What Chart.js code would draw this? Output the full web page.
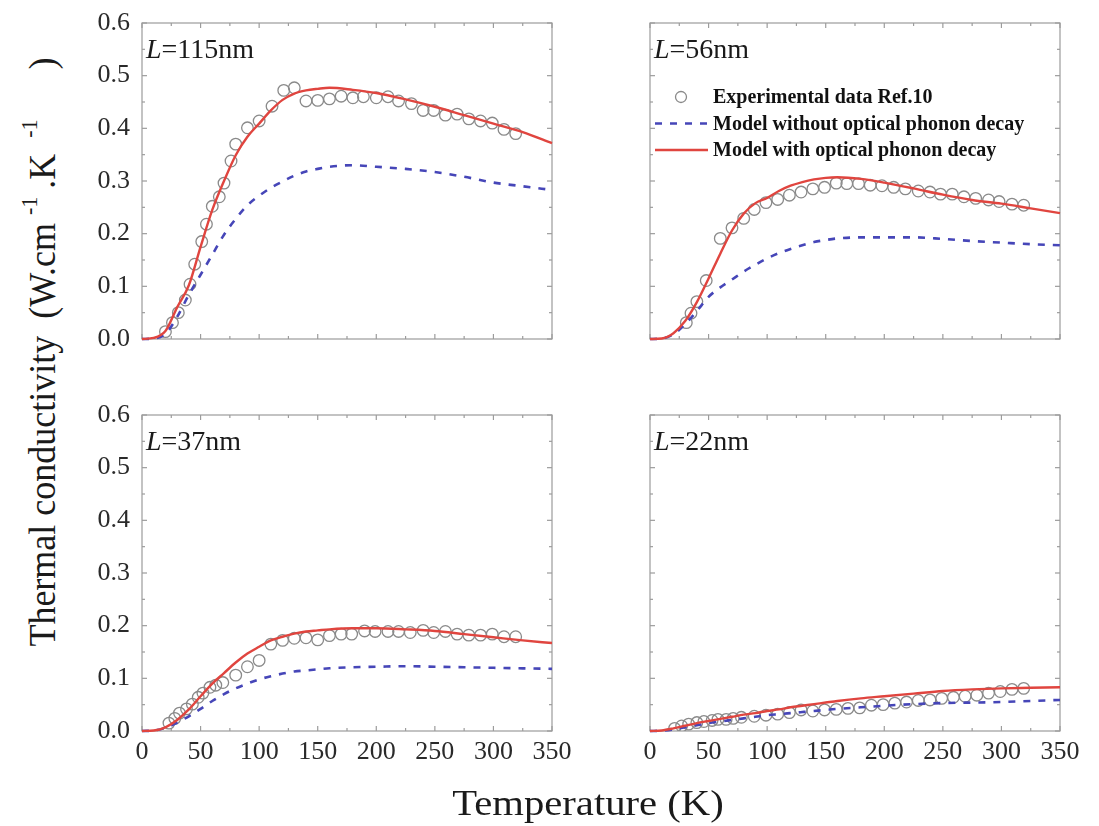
<!DOCTYPE html>
<html>
<head>
<meta charset="utf-8">
<script src="https://cdn.jsdelivr.net/npm/chart.js@4.4.1/dist/chart.umd.min.js"></script>
<style>
  html, body { margin: 0; padding: 0; background: #fff; }
  #wrap { position: relative; width: 1099px; height: 826px; overflow: hidden; }
  canvas { position: absolute; }
  .axis-title {
    position: absolute; font-family: 'Liberation Serif', 'Times New Roman', serif;
    color: #1a1a1a; white-space: nowrap; font-size: 36px; line-height: 1;
  }
  #ytitle { left: 42px; top: 352px; transform: translate(-50%, -50%) rotate(-90deg) scaleY(1.05); }
  #ytitle .open { margin-left: 8px; }
  #ytitle sup { font-size: 22px; position: relative; top: -4px; }
  #ytitle .s1 { margin: 0 8px; }
  #ytitle .s2 { margin: 0 50px 0 16px; }
  #xtitle { left: 588px; top: 803px; transform: translate(-50%, -50%) scaleX(1.13); }
</style>
</head>
<body>
<div id="wrap">
  <canvas id="pA" width="500" height="400" style="left:80px;top:0px;"></canvas>
  <canvas id="pB" width="500" height="400" style="left:590px;top:0px;"></canvas>
  <canvas id="pC" width="500" height="410" style="left:80px;top:392px;"></canvas>
  <canvas id="pD" width="500" height="410" style="left:590px;top:392px;"></canvas>
  <div class="axis-title" id="ytitle">Thermal conductivity <span class="open">(W.cm</span><sup class="s1">-1</sup>.K<sup class="s2">-1</sup>)</div>
  <div class="axis-title" id="xtitle">Temperature (K)</div>
</div>
<script>
// Temperature grid (K) on which both model curves are tabulated
const modelTemps = [0, 10, 20, 30, 40, 50, 60, 70, 80, 90, 100, 110, 120, 130, 140, 150, 160, 180, 200, 225, 250, 275, 300, 325, 350];

// L = 115 nm
const expTemps115 = [20, 26, 31, 37, 41, 45, 51, 55, 60, 66, 70, 76, 80, 90, 100, 111, 121, 130, 140, 150, 160, 170, 180, 189, 200, 210, 219, 230, 240, 249, 259, 269, 279, 289, 299, 309, 319];
const expK115 = [0.014, 0.031, 0.050, 0.074, 0.104, 0.142, 0.185, 0.218, 0.252, 0.270, 0.296, 0.338, 0.370, 0.401, 0.414, 0.442, 0.472, 0.477, 0.452, 0.453, 0.456, 0.461, 0.458, 0.460, 0.458, 0.460, 0.452, 0.447, 0.434, 0.434, 0.425, 0.427, 0.418, 0.414, 0.410, 0.398, 0.390];
const withDecay115 = [0, 0.002, 0.015, 0.060, 0.102, 0.175, 0.245, 0.300, 0.349, 0.384, 0.409, 0.434, 0.454, 0.466, 0.472, 0.475, 0.477, 0.473, 0.467, 0.455, 0.441, 0.425, 0.409, 0.393, 0.372];
const withoutDecay115 = [0, 0.001, 0.010, 0.042, 0.084, 0.122, 0.160, 0.198, 0.228, 0.254, 0.272, 0.287, 0.299, 0.310, 0.318, 0.323, 0.327, 0.330, 0.327, 0.323, 0.317, 0.308, 0.297, 0.290, 0.283];

// L = 56 nm
const expTemps56 = [31, 35, 40, 48, 60, 70, 80, 89, 99, 109, 119, 129, 139, 149, 159, 168, 178, 188, 198, 208, 218, 229, 239, 248, 258, 268, 278, 289, 298, 309, 319];
const expK56 = [0.031, 0.049, 0.071, 0.111, 0.191, 0.211, 0.229, 0.246, 0.259, 0.265, 0.273, 0.279, 0.285, 0.288, 0.296, 0.295, 0.295, 0.292, 0.291, 0.288, 0.285, 0.281, 0.279, 0.275, 0.275, 0.270, 0.267, 0.264, 0.261, 0.256, 0.254];
const withDecay56 = [0, 0.001, 0.011, 0.034, 0.070, 0.115, 0.162, 0.206, 0.238, 0.258, 0.268, 0.281, 0.291, 0.298, 0.303, 0.306, 0.307, 0.304, 0.297, 0.286, 0.274, 0.264, 0.257, 0.248, 0.239];
const withoutDecay56 = [0, 0.001, 0.009, 0.028, 0.053, 0.080, 0.098, 0.113, 0.128, 0.141, 0.153, 0.163, 0.171, 0.178, 0.184, 0.188, 0.191, 0.193, 0.193, 0.193, 0.190, 0.186, 0.183, 0.180, 0.178];

// L = 37 nm
const expTemps37 = [23, 28, 32, 38, 43, 48, 52, 58, 63, 69, 80, 90, 100, 110, 120, 130, 140, 150, 160, 170, 179, 190, 199, 210, 219, 229, 240, 249, 259, 269, 279, 289, 299, 309, 319];
const expK37 = [0.015, 0.024, 0.034, 0.042, 0.051, 0.064, 0.072, 0.083, 0.087, 0.092, 0.106, 0.122, 0.134, 0.165, 0.172, 0.176, 0.177, 0.173, 0.181, 0.184, 0.184, 0.190, 0.189, 0.189, 0.189, 0.187, 0.191, 0.187, 0.189, 0.184, 0.182, 0.182, 0.184, 0.179, 0.179];
const withDecay37 = [0, 0.001, 0.007, 0.021, 0.041, 0.066, 0.090, 0.110, 0.130, 0.147, 0.160, 0.172, 0.179, 0.185, 0.189, 0.191, 0.193, 0.195, 0.195, 0.193, 0.190, 0.184, 0.178, 0.172, 0.167];
const withoutDecay37 = [0, 0.001, 0.006, 0.016, 0.028, 0.042, 0.057, 0.070, 0.081, 0.090, 0.098, 0.104, 0.109, 0.113, 0.115, 0.117, 0.119, 0.121, 0.122, 0.123, 0.122, 0.121, 0.120, 0.119, 0.118];

// L = 22 nm
const expTemps22 = [21, 27, 33, 40, 46, 53, 58, 65, 71, 78, 89, 99, 109, 119, 129, 139, 149, 159, 169, 179, 189, 199, 209, 219, 229, 239, 249, 259, 269, 279, 289, 299, 309, 319];
const expK22 = [0.005, 0.0095, 0.013, 0.016, 0.018, 0.020, 0.022, 0.022, 0.024, 0.026, 0.028, 0.030, 0.032, 0.035, 0.040, 0.038, 0.040, 0.041, 0.043, 0.044, 0.049, 0.050, 0.053, 0.055, 0.058, 0.059, 0.062, 0.064, 0.066, 0.068, 0.072, 0.075, 0.079, 0.081];
const withDecay22 = [0, 0.001, 0.005, 0.010, 0.015, 0.019, 0.023, 0.027, 0.031, 0.034, 0.038, 0.041, 0.045, 0.048, 0.051, 0.054, 0.057, 0.062, 0.066, 0.071, 0.076, 0.079, 0.081, 0.082, 0.083];
const withoutDecay22 = [0, 0.0005, 0.003, 0.007, 0.011, 0.015, 0.018, 0.021, 0.024, 0.027, 0.030, 0.032, 0.034, 0.036, 0.038, 0.040, 0.042, 0.045, 0.048, 0.051, 0.053, 0.054, 0.055, 0.057, 0.059];

// Axis ranges and tick steps
const tempRange = [0, 350];
const tempStep = 50;
const kRange = [0, 0.6];
const kStep = 0.1;

const legendLabels = ['Experimental data Ref.10', 'Model without optical phonon decay', 'Model with optical phonon decay'];

const SERIF = "'Liberation Serif', 'Times New Roman', serif";
const RED = '#e0453f';
const BLUE = '#4646b8';
const GREY = '#8a8a8a';
const FRAME = '#9c9c9c';

const pairs = (xs, ys) => xs.map((x, i) => ({ x, y: ys[i] }));

// Box frame with inward major/minor ticks on all four sides
const frameTicks = {
  id: 'frameTicks',
  beforeDatasetsDraw(chart) {
    const { ctx, chartArea: a, scales: { x, y } } = chart;
    ctx.save();
    ctx.strokeStyle = FRAME;
    ctx.lineWidth = 1.2;
    ctx.strokeRect(a.left, a.top, a.right - a.left, a.bottom - a.top);
    const seg = (x1, y1, x2, y2) => { ctx.beginPath(); ctx.moveTo(x1, y1); ctx.lineTo(x2, y2); ctx.stroke(); };
    const xt = x.ticks.map(t => t.value);
    const yt = y.ticks.map(t => t.value);
    const xMarks = [];
    xt.forEach((v, i) => { xMarks.push([v, 5]); if (i < xt.length - 1) xMarks.push([(v + xt[i + 1]) / 2, 3]); });
    const yMarks = [];
    yt.forEach((v, i) => { yMarks.push([v, 5]); if (i < yt.length - 1) yMarks.push([(v + yt[i + 1]) / 2, 3]); });
    xMarks.forEach(([v, len]) => {
      const px = x.getPixelForValue(v);
      seg(px, a.bottom, px, a.bottom - len);
      seg(px, a.top, px, a.top + len);
    });
    yMarks.forEach(([v, len]) => {
      const py = y.getPixelForValue(v);
      seg(a.left, py, a.left + len, py);
      seg(a.right, py, a.right - len, py);
    });
    ctx.restore();
  }
};

// Thickness label "L=..nm" in the upper-left corner of each panel
const panelLabel = {
  id: 'panelLabel',
  afterDraw(chart, args, opts) {
    if (!opts.text) return;
    const { ctx, chartArea: a } = chart;
    ctx.save();
    ctx.fillStyle = '#1a1a1a';
    ctx.textBaseline = 'alphabetic';
    ctx.textAlign = 'left';
    let xPos = a.left + 4;
    const yPos = a.top + 35;
    ctx.font = 'italic 28px ' + SERIF;
    ctx.fillText('L', xPos, yPos);
    xPos += ctx.measureText('L').width;
    ctx.font = '28px ' + SERIF;
    ctx.fillText(opts.text, xPos, yPos);
    ctx.restore();
  }
};

// Legend box drawn inside the L=56nm panel, using each dataset's own style
const insetLegend = {
  id: 'insetLegend',
  afterDraw(chart, args, opts) {
    if (!opts.show) return;
    const { ctx, chartArea: a } = chart;
    const ds = chart.data.datasets;
    const rows = [a.top + 74, a.top + 100.5, a.top + 127];
    const x0 = a.left + 5, x1 = a.left + 58, tx = a.left + 63;
    ctx.save();
    // circle symbol
    ctx.strokeStyle = ds[0].borderColor;
    ctx.lineWidth = ds[0].borderWidth;
    ctx.beginPath();
    ctx.arc(a.left + 31, rows[0], 5.5, 0, Math.PI * 2);
    ctx.stroke();
    // dashed line sample
    ctx.strokeStyle = ds[1].borderColor;
    ctx.lineWidth = ds[1].borderWidth;
    ctx.setLineDash(ds[1].borderDash);
    ctx.beginPath(); ctx.moveTo(x0, rows[1]); ctx.lineTo(x1, rows[1]); ctx.stroke();
    // solid line sample
    ctx.setLineDash([]);
    ctx.strokeStyle = ds[2].borderColor;
    ctx.lineWidth = ds[2].borderWidth;
    ctx.beginPath(); ctx.moveTo(x0, rows[2]); ctx.lineTo(x1, rows[2]); ctx.stroke();
    ctx.fillStyle = '#111';
    ctx.font = 'bold 20px ' + SERIF;
    ctx.textBaseline = 'middle';
    legendLabels.forEach((t, i) => ctx.fillText(t, tx, rows[i] + 1));
    ctx.restore();
  }
};

function makePanel(id, cfg) {
  const c = document.getElementById(id);
  return new Chart(c, {
    type: 'scatter',
    data: {
      datasets: [
        {
          label: legendLabels[0],
          data: pairs(cfg.expT, cfg.expK),
          showLine: false,
          pointStyle: 'circle',
          pointRadius: 5.8,
          pointBorderWidth: 1.3,
          borderWidth: 1.3,
          borderColor: GREY,
          pointBorderColor: GREY,
          backgroundColor: 'rgba(0,0,0,0)',
          pointBackgroundColor: 'rgba(0,0,0,0)',
          order: 3
        },
        {
          label: legendLabels[1],
          data: pairs(modelTemps, cfg.without),
          showLine: true,
          pointRadius: 0,
          borderColor: BLUE,
          borderWidth: 2.6,
          borderDash: [7, 8],
          cubicInterpolationMode: 'monotone',
          clip: false,
          order: 2
        },
        {
          label: legendLabels[2],
          data: pairs(modelTemps, cfg.with),
          showLine: true,
          pointRadius: 0,
          borderColor: RED,
          borderWidth: 2.4,
          cubicInterpolationMode: 'monotone',
          clip: false,
          order: 1
        }
      ]
    },
    options: {
      responsive: false,
      animation: false,
      events: [],
      layout: { padding: { left: 0, right: cfg.padRight, top: 23, bottom: 0 } },
      plugins: {
        legend: { display: false },
        tooltip: { enabled: false },
        panelLabel: { text: cfg.label },
        insetLegend: { show: !!cfg.legend }
      },
      scales: {
        x: {
          type: 'linear',
          min: tempRange[0], max: tempRange[1],
          grid: { display: false },
          border: { display: false },
          ticks: {
            display: cfg.xLabels,
            stepSize: tempStep,
            padding: -2,
            color: '#2a2a2a',
            font: { family: SERIF, size: 26 },
            maxRotation: 0
          },
          afterFit(s) { s.height = cfg.xAxisH; }
        },
        y: {
          type: 'linear',
          min: kRange[0], max: kRange[1],
          grid: { display: false },
          border: { display: false },
          ticks: {
            display: cfg.yLabels,
            stepSize: kStep,
            padding: 4,
            color: '#2a2a2a',
            font: { family: SERIF, size: 26 },
            callback: v => Number(v).toFixed(1)
          },
          afterFit(s) { s.width = cfg.yAxisW; }
        }
      }
    },
    plugins: [frameTicks, panelLabel, insetLegend]
  });
}

makePanel('pA', { expT: expTemps115, expK: expK115, with: withDecay115, without: withoutDecay115,
  label: '=115nm', xLabels: false, yLabels: true, yAxisW: 62, xAxisH: 61, padRight: 28 });
makePanel('pB', { expT: expTemps56, expK: expK56, with: withDecay56, without: withoutDecay56,
  label: '=56nm', xLabels: false, yLabels: false, yAxisW: 60, xAxisH: 61, padRight: 30, legend: true });
makePanel('pC', { expT: expTemps37, expK: expK37, with: withDecay37, without: withoutDecay37,
  label: '=37nm', xLabels: true, yLabels: true, yAxisW: 62, xAxisH: 71, padRight: 28 });
makePanel('pD', { expT: expTemps22, expK: expK22, with: withDecay22, without: withoutDecay22,
  label: '=22nm', xLabels: true, yLabels: false, yAxisW: 60, xAxisH: 71, padRight: 30 });
</script>
</body>
</html>
